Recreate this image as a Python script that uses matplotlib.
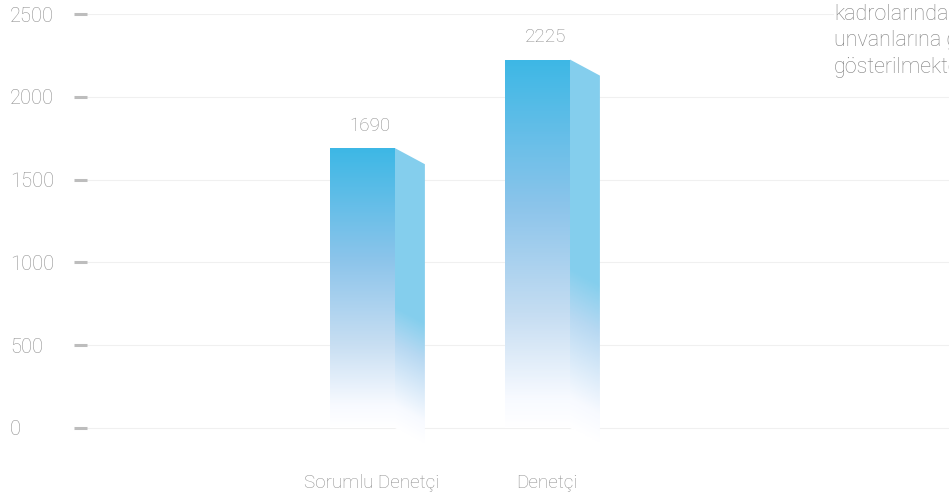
import numpy as np
import matplotlib
matplotlib.use("Agg")
import matplotlib.pyplot as plt
from matplotlib.patches import Polygon
from matplotlib.colors import LinearSegmentedColormap

# data
categories = ["Sorumlu Denetçi", "Denetçi"]
values = [1690, 2225]
y_ticks = [0, 500, 1000, 1500, 2000, 2500]
side_note = ["kadrolarında", "unvanlarına göre", "gösterilmektedir."]

plt.rcParams['font.family'] = ['Roboto', 'DejaVu Sans']
plt.rcParams['font.weight'] = 'light'

fig = plt.figure(figsize=(9.49, 4.94), dpi=100)
ax = fig.add_axes([87 / 949, 44 / 494, 862 / 949, 436 / 494])

front_cmap = LinearSegmentedColormap.from_list("front", [
    (0.0, (1, 1, 1)),
    (0.08, (0.97, 0.98, 1.0)),
    (0.3, (0.78, 0.87, 0.95)),
    (0.6, (0.55, 0.77, 0.92)),
    (1.0, (0.24, 0.72, 0.90)),
])
side_cmap = LinearSegmentedColormap.from_list("side", [
    (0.0, (1, 1, 1)),
    (0.08, (0.97, 0.98, 1.0)),
    (0.3, (0.72, 0.85, 0.95)),
    (0.43, (0.52, 0.81, 0.93)),
    (1.0, (0.52, 0.81, 0.93)),
])

w = 0.371      # front face width
sw = 0.171     # side face width
drop = 97      # side top slope in data units

x = np.arange(len(categories))
for xi, v in zip(x, values):
    x0, x1 = xi - w / 2, xi + w / 2
    # front face
    yy = np.linspace(0, 1, 200)[:, None] * np.ones((1, 10))
    front = Polygon([(x0, 0), (x1, 0), (x1, v), (x0, v)], closed=True,
                    facecolor='none', edgecolor='none')
    ax.add_patch(front)
    im = ax.imshow(yy, cmap=front_cmap, vmin=0, vmax=1, origin='lower',
                   extent=(x0, x1, 0, v), aspect='auto', interpolation='bilinear',
                   zorder=2)
    im.set_clip_path(front)
    # side face
    xs = np.linspace(0, 1, 60)[None, :]
    ys = np.linspace(-drop, v, 300)[:, None]
    t = (ys + drop * xs) / v
    side = Polygon([(x1, 0), (x1, v), (x1 + sw, v - drop), (x1 + sw, -drop)],
                   closed=True, facecolor='none', edgecolor='none')
    ax.add_patch(side)
    im2 = ax.imshow(t, cmap=side_cmap, vmin=0, vmax=1, origin='lower',
                    extent=(x1, x1 + sw, -drop, v), aspect='auto',
                    interpolation='bilinear', zorder=2)
    im2.set_clip_path(side)
    ax.text(xi + 0.045, v + 80, str(v), ha='center', va='bottom',
            fontsize=13.5, color='#8e8e8e')

ax.set_xlim(-1.574, 3.351)
ax.set_ylim(-132.9, 2500)

ax.set_yticks(y_ticks)
ax.set_yticklabels([str(t) for t in y_ticks])
for lbl in ax.get_yticklabels():
    lbl.set_horizontalalignment('left')
ax.tick_params(axis='y', length=9.4, width=2.2, color='#bdbdbd', pad=46,
               labelsize=14.5, labelcolor='#8e8e8e')
ax.yaxis.grid(True, color='#f0f0f0', linewidth=0.8, zorder=0.5)
ax.set_axisbelow(True)

ax.set_xticks(x + 0.05)
ax.set_xticklabels(categories)
ax.tick_params(axis='x', length=0, pad=17, labelsize=13.6, labelcolor='#8e8e8e')

for s in ax.spines.values():
    s.set_visible(False)

ax.text(834 / 949, 1 - 4 / 494, "\n".join(side_note), transform=fig.transFigure,
        ha='left', va='top', fontsize=15.5, color='#808080', linespacing=1.33,
        bbox=dict(facecolor='white', edgecolor='none', pad=0), zorder=5)

fig.savefig("out.png", dpi=100)
